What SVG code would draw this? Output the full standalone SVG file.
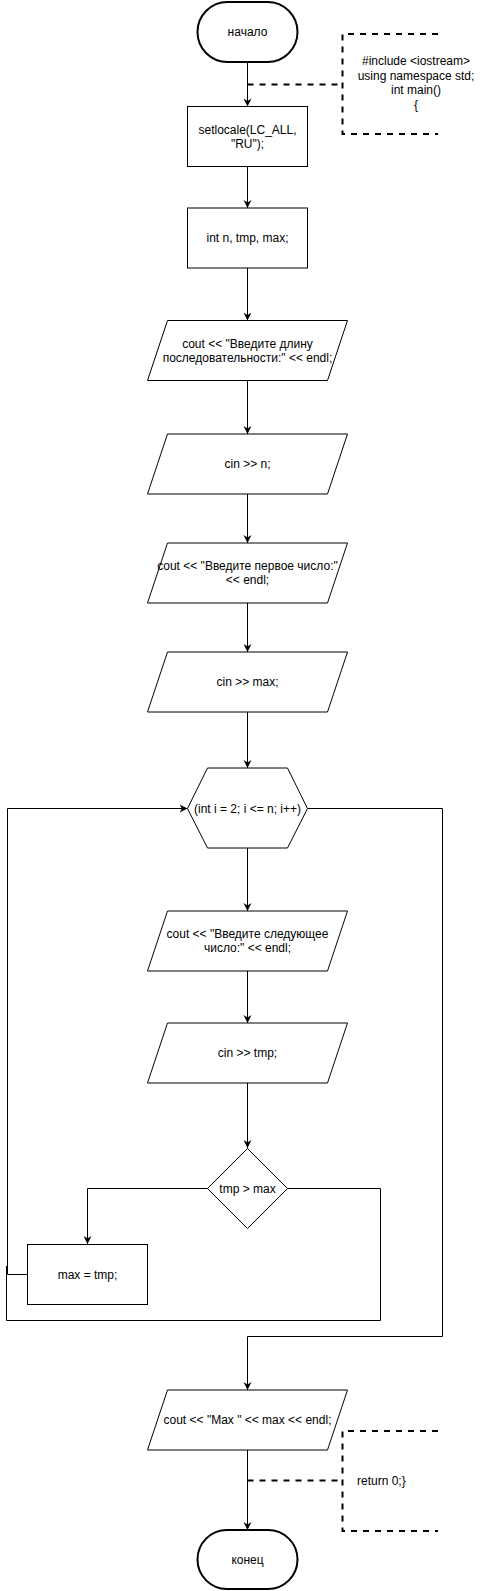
<svg xmlns="http://www.w3.org/2000/svg" width="486" height="1591" viewBox="0 0 486 1591">
<style>
.s{fill:#fff;stroke:#000;stroke-width:1}
.t{fill:#fff;stroke:#000;stroke-width:2}
.e{fill:none;stroke:#000;stroke-width:1}
.d{fill:none;stroke:#000;stroke-width:2;stroke-dasharray:6 6}
text{font-family:"Liberation Sans",Arial,sans-serif;font-size:12px;fill:#000;text-anchor:middle;dominant-baseline:central}
</style>
<defs>
<marker id="a" viewBox="0 0 10 10" refX="10" refY="5" markerWidth="8" markerHeight="9" markerUnits="userSpaceOnUse" orient="auto">
<path d="M0,0 L10,5 L0,10 L3,5 z" fill="#000"/>
</marker>
</defs>
<rect width="486" height="1591" fill="#fff"/>
<g id="connectors">
<path class="e" d="M247.5,62 V106.5" marker-end="url(#a)"/>
<path class="d" d="M247.5,84.5 H342.5"/>
<path class="e" d="M247.5,166.5 V208" marker-end="url(#a)"/>
<path class="e" d="M247.5,268 V320.5" marker-end="url(#a)"/>
<path class="e" d="M247.5,380.5 V434" marker-end="url(#a)"/>
<path class="e" d="M247.5,494 V543" marker-end="url(#a)"/>
<path class="e" d="M247.5,603 V652" marker-end="url(#a)"/>
<path class="e" d="M247.5,712 V768" marker-end="url(#a)"/>
<path class="e" d="M247.5,848 V911" marker-end="url(#a)"/>
<path class="e" d="M247.5,971 V1023" marker-end="url(#a)"/>
<path class="e" d="M247.5,1083 V1148" marker-end="url(#a)"/>
<path class="e" d="M207.5,1188.5 H87.5 V1244" marker-end="url(#a)"/>
<path class="e" d="M27.5,1274.5 H7.5 V808.5 H187.5" marker-end="url(#a)"/>
<path class="e" d="M287.5,1188.5 H380.5 V1320.5 H6.5 V1266"/>
<path class="e" d="M307.5,808.5 H442.5 V1336.5 H247.5 V1390" marker-end="url(#a)"/>
<path class="e" d="M247.5,1450 V1530" marker-end="url(#a)"/>
<path class="d" d="M247.5,1480.5 H342.5"/>
</g>
<g id="start">
<rect class="t" x="197.5" y="2" width="100" height="60" rx="30" ry="30"/>
<text x="247.5" y="32">начало</text>
</g>
<g id="note1">
<path class="d" d="M438,34 H342.5 V134 H438"/>
<text x="416" y="61">#include &lt;iostream&gt;</text>
<text x="416" y="75.5">using namespace std;</text>
<text x="416" y="90">int main()</text>
<text x="416" y="104.5">{</text>
</g>
<g id="setlocale">
<rect class="s" x="187.5" y="106.5" width="120" height="60"/>
<text x="247.5" y="129.5">setlocale(LC_ALL,</text>
<text x="247.5" y="144">"RU");</text>
</g>
<g id="declare">
<rect class="s" x="187.5" y="208" width="120" height="60"/>
<text x="247.5" y="238">int n, tmp, max;</text>
</g>
<g id="out1">
<path class="s" d="M167.5,320.5 H347.5 L327.5,380.5 H147.5 Z"/>
<text x="247.5" y="343.5">cout &lt;&lt; "Введите длину</text>
<text x="247.5" y="358">последовательности:" &lt;&lt; endl;</text>
</g>
<g id="in1">
<path class="s" d="M167.5,434 H347.5 L327.5,494 H147.5 Z"/>
<text x="247.5" y="464">cin &gt;&gt; n;</text>
</g>
<g id="out2">
<path class="s" d="M167.5,543 H347.5 L327.5,603 H147.5 Z"/>
<text x="247.5" y="565.5">cout &lt;&lt; "Введите первое число:"</text>
<text x="247.5" y="580">&lt;&lt; endl;</text>
</g>
<g id="in2">
<path class="s" d="M167.5,652 H347.5 L327.5,712 H147.5 Z"/>
<text x="247.5" y="682">cin &gt;&gt; max;</text>
</g>
<g id="loop">
<path class="s" d="M207.5,768 H287.5 L307.5,808.5 L287.5,848 H207.5 L187.5,808.5 Z"/>
<text x="247.5" y="808.5">(int i = 2; i &lt;= n; i++)</text>
</g>
<g id="out3">
<path class="s" d="M167.5,911 H347.5 L327.5,971 H147.5 Z"/>
<text x="247.5" y="933.5">cout &lt;&lt; "Введите следующее</text>
<text x="247.5" y="948">число:" &lt;&lt; endl;</text>
</g>
<g id="in3">
<path class="s" d="M167.5,1023 H347.5 L327.5,1083 H147.5 Z"/>
<text x="247.5" y="1053">cin &gt;&gt; tmp;</text>
</g>
<g id="cond">
<path class="s" d="M247.5,1148.5 L287.5,1188.5 L247.5,1228.5 L207.5,1188.5 Z"/>
<text x="247.5" y="1188.5">tmp &gt; max</text>
</g>
<g id="assign">
<rect class="s" x="27.5" y="1244.5" width="120" height="60"/>
<text x="87.5" y="1274.5">max = tmp;</text>
</g>
<g id="out4">
<path class="s" d="M167.5,1390 H347.5 L327.5,1450 H147.5 Z"/>
<text x="247.5" y="1420">cout &lt;&lt; "Max " &lt;&lt; max &lt;&lt; endl;</text>
</g>
<g id="note2">
<path class="d" d="M438,1431 H342.5 V1531 H438"/>
<text x="357" y="1480.5" style="text-anchor:start">return 0;}</text>
</g>
<g id="end">
<rect class="t" x="197.5" y="1530" width="100" height="59" rx="29.5" ry="29.5"/>
<text x="247.5" y="1560">конец</text>
</g>
</svg>
